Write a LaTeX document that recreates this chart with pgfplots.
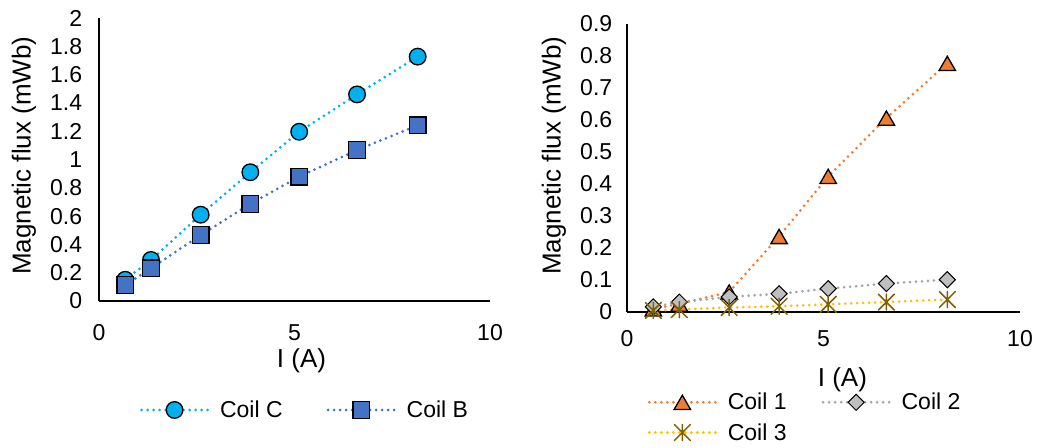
\documentclass[border=0pt]{standalone}
\usepackage{fontspec}
\setmainfont{Liberation Sans}
\usepackage{pgfplots}
\pgfplotsset{compat=1.18}
\definecolor{cC}{HTML}{00B0F0}
\definecolor{cB}{HTML}{4472C4}
\definecolor{cone}{HTML}{ED7D31}
\definecolor{ctwo}{HTML}{A5A5A5}
\definecolor{ctwof}{HTML}{BFBFBF}
\definecolor{cthree}{HTML}{FFC000}
\definecolor{cthreem}{HTML}{7F6000}
\pgfdeclareplotmark{xstar}{%
  \pgfpathmoveto{\pgfqpoint{0pt}{\pgfplotmarksize}}%
  \pgfpathlineto{\pgfqpoint{0pt}{-\pgfplotmarksize}}%
  \pgfpathmoveto{\pgfqpoint{-\pgfplotmarksize}{\pgfplotmarksize}}%
  \pgfpathlineto{\pgfqpoint{\pgfplotmarksize}{-\pgfplotmarksize}}%
  \pgfpathmoveto{\pgfqpoint{-\pgfplotmarksize}{-\pgfplotmarksize}}%
  \pgfpathlineto{\pgfqpoint{\pgfplotmarksize}{\pgfplotmarksize}}%
  \pgfusepathqstroke}
\pgfplotsset{
  dotline/.style={line width=3bp, line cap=round, dash pattern=on 0bp off 6bp},
  myax/.style={
    scale only axis, axis lines=left, axis line style={line width=1.3bp, -},
    major tick length=0pt, xmin=0, xmax=10, xtick={0,5,10}, ymin=0, clip=false,
    tick label style={font=\fontsize{23bp}{27bp}\selectfont},
    label style={font=\fontsize{26bp}{30bp}\selectfont},
    /pgf/number format/assume math mode=true,
    legend style={draw=none, fill=none, inner sep=0pt, outer sep=0pt,
      font=\fontsize{23bp}{27bp}\selectfont,
      nodes={inner sep=0pt, outer sep=0pt},
      /tikz/every odd column/.append style={column sep=11bp},
      /tikz/every even column/.append style={column sep=44bp}},
    legend cell align=left,
    legend image code/.code={\draw[mark repeat=2,mark phase=2,##1] plot coordinates {(0bp,0bp) (33bp,0bp) (66bp,0bp)};},
  }
}
\begin{document}
\begin{tikzpicture}
\useasboundingbox (0,0) rectangle (1038bp,448bp);
\begin{axis}[myax, at={(99bp,147bp)}, anchor=south west,
  width=391bp, height=283bp, ymax=2, ytick={0,0.2,...,2.01},
  yticklabel style={xshift=-13.3bp}, xticklabel style={yshift=-20bp},
  xlabel={I (A)}, ylabel={Magnetic flux (mWb)},
  xlabel style={at={(axis description cs:0.518,-0.212)}, anchor=center},
  ylabel style={at={(axis description cs:-0.192,0.514)}, anchor=center},
  legend columns=2,
  legend style={at={(axis description cs:0.105,-0.385)}, anchor=west},
]
\addplot[cC, dotline, mark=*, mark size=8.3bp, mark options={solid, fill=cC, draw=black, line width=1.3bp}]
 coordinates {(0.67,0.15) (1.33,0.29) (2.6,0.61) (3.87,0.91) (5.12,1.196) (6.6,1.46) (8.15,1.727)};
\addlegendentry{Coil C}
\addplot[cB, dotline, mark=square*, mark size=8.3bp, mark options={solid, fill=cB, draw=black, line width=1.3bp}]
 coordinates {(0.67,0.113) (1.33,0.231) (2.6,0.466) (3.87,0.686) (5.12,0.879) (6.6,1.067) (8.15,1.241)};
\addlegendentry{Coil B}
\end{axis}
\begin{axis}[myax, at={(627bp,136bp)}, anchor=south west,
  width=393bp, height=288bp, ymax=0.9, ytick={0,0.1,...,0.91},
  yticklabel style={xshift=-11.3bp}, xticklabel style={yshift=-15.3bp},
  xlabel={I (A)}, ylabel={Magnetic flux (mWb)},
  xlabel style={at={(axis description cs:0.548,-0.236)}, anchor=center},
  ylabel style={at={(axis description cs:-0.186,0.543)}, anchor=center},
  legend columns=2,
  legend style={at={(axis description cs:0.053,-0.366)}, anchor=west,
    /tikz/every even column/.append style={column sep=35bp}, row sep=12bp},
]
\addplot[cone, dotline, mark=triangle*, mark size=9.5bp, mark options={solid, fill=cone, draw=black, line width=1.3bp, yshift=-2.4bp}]
 coordinates {(0.67,0.01) (1.33,0.025) (2.6,0.0626) (3.87,0.236) (5.12,0.424) (6.6,0.606) (8.15,0.777)};
\addlegendentry{Coil 1}
\addplot[ctwo, dotline, mark=square*, mark size=5.7bp, mark options={solid, rotate=45, fill=ctwof, draw=black, line width=1bp}]
 coordinates {(0.67,0.016) (1.33,0.031) (2.6,0.047) (3.87,0.057) (5.12,0.073) (6.6,0.089) (8.15,0.101)};
\addlegendentry{Coil 2}
\addplot[cthree, dotline, mark=xstar, mark size=8bp, mark options={solid, draw=cthreem, line width=1.5bp}]
 coordinates {(0.67,0.005) (1.33,0.0075) (2.6,0.014) (3.87,0.018) (5.12,0.024) (6.6,0.031) (8.15,0.039)};
\addlegendentry{Coil 3}
\end{axis}
\end{tikzpicture}
\end{document}
